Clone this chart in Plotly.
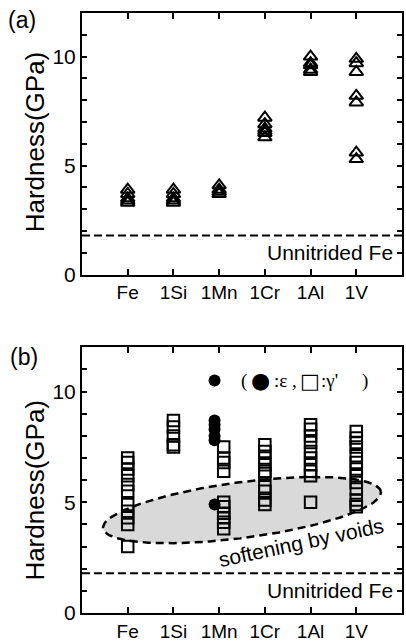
import numpy as np
import plotly.graph_objects as go

# ---------------- data ----------------
categories = ["Fe", "1Si", "1Mn", "1Cr", "1Al", "1V"]
y_ticks = list(range(0, 13))
y_ticklabels = ["0", "", "", "", "", "5", "", "", "", "", "10", "", ""]

# panel (a): hardness values (open triangles)
a_fe = [3.9, 3.7, 3.5, 3.4, 3.3]
a_si = [3.9, 3.7, 3.5, 3.4, 3.3]
a_mn = [4.1, 3.9, 3.8, 3.7]
a_cr = [7.2, 6.9, 6.7, 6.6, 6.5, 6.3]
a_al = [10.0, 9.7, 9.6, 9.4, 9.3]
a_v = [9.9, 9.7, 9.3, 8.2, 7.9, 5.6, 5.3]

# panel (b): gamma' phase (open squares)
b_fe = [7.0, 6.8, 6.5, 6.2, 5.8, 5.5, 4.9, 4.6, 4.3, 4.0, 3.0]
b_si = [8.7, 8.4, 8.0, 7.6, 7.5]
b_mn = [7.5, 7.0, 6.8, 6.4, 5.0, 4.8, 4.5, 4.3, 4.1, 3.8]
b_cr = [7.6, 7.3, 7.0, 6.7, 6.4, 6.3, 5.7, 5.5, 5.1, 4.9]
b_al = [8.5, 8.3, 8.0, 7.7, 7.3, 7.0, 6.7, 6.4, 6.2, 5.0]
b_v = [8.2, 7.9, 7.7, 7.5, 7.1, 6.8, 6.5, 6.2, 5.9, 5.6, 5.1, 4.9, 4.8]
# panel (b): epsilon phase (filled circles), only 1Mn
b_eps_mn = [10.5, 8.7, 8.5, 8.3, 8.0, 7.8, 4.9]

unnitrided_fe = 1.8

a_sets = [a_fe, a_si, a_mn, a_cr, a_al, a_v]
b_sets = [b_fe, b_si, b_mn, b_cr, b_al, b_v]
b_offsets = [0, 0, 0.1, 0, 0, 0]
eps_offset = -0.1

# ---------------- figure ----------------
W, H = 406, 644
ml, mr, mt, mb = 82, 2, 13, 28
fig = go.Figure()

ax, ay = [], []
for i, vals in enumerate(a_sets):
    ax += [i + 1] * len(vals)
    ay += vals
fig.add_trace(go.Scatter(
    x=ax, y=ay, mode="markers", xaxis="x", yaxis="y",
    marker=dict(symbol="triangle-up-open", size=12, color="black",
                line=dict(width=2, color="black")),
    showlegend=False))

# ellipse ("softening by voids") in panel (b)
ell_cx, ell_cy = 3.5, 4.65
ell_a_px, ell_b_px, ell_ang = 141, 28, 7.5
px_per_x = (W - ml - mr) / 7.0
px_per_y = 267 / 12.0
t = np.linspace(0, 2 * np.pi, 200)
th = np.deg2rad(ell_ang)
ex = ell_a_px * np.cos(t) * np.cos(th) - ell_b_px * np.sin(t) * np.sin(th)
ey = ell_a_px * np.cos(t) * np.sin(th) + ell_b_px * np.sin(t) * np.cos(th)
fig.add_trace(go.Scatter(
    x=ell_cx + ex / px_per_x, y=ell_cy + ey / px_per_y, mode="lines",
    xaxis="x2", yaxis="y2", fill="toself", fillcolor="#d9d9d9",
    line=dict(color="black", width=2.5, dash="8px,5px"),
    showlegend=False, hoverinfo="skip"))

bx, by = [], []
for i, vals in enumerate(b_sets):
    bx += [i + 1 + b_offsets[i]] * len(vals)
    by += vals
fig.add_trace(go.Scatter(
    x=bx, y=by, mode="markers", xaxis="x2", yaxis="y2",
    marker=dict(symbol="square-open", size=11.5, color="black",
                line=dict(width=2, color="black")),
    showlegend=False))
fig.add_trace(go.Scatter(
    x=[3 + eps_offset] * len(b_eps_mn), y=b_eps_mn, mode="markers",
    xaxis="x2", yaxis="y2",
    marker=dict(symbol="circle", size=12, color="black"),
    showlegend=False))

# unnitrided Fe dashed lines
for xr, yr in (("x", "y"), ("x2", "y2")):
    fig.add_trace(go.Scatter(
        x=[0, 7], y=[unnitrided_fe, unnitrided_fe], mode="lines",
        xaxis=xr, yaxis=yr,
        line=dict(color="black", width=2, dash="8px,4px"),
        showlegend=False, hoverinfo="skip"))

font_main = "Liberation Sans, Arial, sans-serif"
xcommon = dict(range=[0, 7], tickvals=list(range(1, 7)), ticktext=categories,
               ticks="inside", ticklen=6, tickwidth=1.5, tickcolor="black",
               showline=True, linewidth=2, linecolor="black", mirror="ticks",
               showgrid=False, zeroline=False,
               tickfont=dict(family=font_main, size=19, color="black"))
ycommon = dict(range=[0, 12], tickvals=y_ticks, ticktext=y_ticklabels,
               ticks="inside", ticklen=5, tickwidth=1.5, tickcolor="black",
               showline=True, linewidth=2, linecolor="black", mirror="ticks",
               showgrid=False, zeroline=False,
               tickfont=dict(family=font_main, size=21, color="black"))

dom_a = [(H - mb - 276) / (H - mt - mb), 1.0]
dom_b = [0.0, (H - mb - 349) / (H - mt - mb)]

fig.update_layout(
    width=W, height=H, margin=dict(l=ml, r=mr, t=mt, b=mb),
    paper_bgcolor="white", plot_bgcolor="white",
    xaxis=dict(anchor="y", **xcommon),
    yaxis=dict(anchor="x", domain=dom_a, **ycommon),
    xaxis2=dict(anchor="y2", **xcommon),
    yaxis2=dict(anchor="x2", domain=dom_b, **ycommon),
)

ann = []
# y titles
for dom, yc in ((dom_a, 143), (dom_b, 493)):
    ann.append(dict(text="Hardness(GPa)", xref="paper", yref="paper",
                    x=0, y=(H - mb - yc) / (H - mt - mb), xshift=-47,
                    xanchor="center", yanchor="middle", textangle=-90,
                    showarrow=False,
                    font=dict(family=font_main, size=26, color="black")))
# panel labels
ann.append(dict(text="(a)", xref="paper", yref="paper", x=0, xshift=-60,
                y=(H - mb - 20) / (H - mt - mb), xanchor="center", yanchor="middle",
                showarrow=False, font=dict(family=font_main, size=23, color="black")))
ann.append(dict(text="(b)", xref="paper", yref="paper", x=0, xshift=-58,
                y=(H - mb - 359) / (H - mt - mb), xanchor="center", yanchor="middle",
                showarrow=False, font=dict(family=font_main, size=23, color="black")))
# Unnitrided Fe labels
for xr, yr in (("x", "y"), ("x2", "y2")):
    ann.append(dict(text="Unnitrided Fe", xref=xr, yref=yr, x=6.85, y=1.0,
                    xanchor="right", yanchor="middle", showarrow=False,
                    font=dict(family=font_main, size=21, color="black")))
# softening by voids
ann.append(dict(text="softening by voids", xref="x2", yref="y2", x=4.78, y=3.2,
                xanchor="center", yanchor="middle", textangle=-12, showarrow=False,
                font=dict(family=font_main, size=21, color="black")))
# phase legend, built from pieces
serif = "Liberation Serif, Times New Roman, serif"
sym = "DejaVu Sans, sans-serif"
legend_pieces = [("(", -64, 19, serif), ("●", -54, 22, sym), (":ε ,", -31, 19, serif),
                 ("□", -5, 21, sym), (":γ'", 16, 19, serif), (")", 57, 19, serif)]
for txt, sh, fs, fam in legend_pieces:
    ann.append(dict(text=txt, xref="x2", yref="y2", x=4.84, y=10.5, xshift=sh,
                    xanchor="left", yanchor="middle", showarrow=False,
                    font=dict(family=fam, size=fs, color="black")))
fig.update_layout(annotations=ann)

fig.write_html("out.html", config={"displayModeBar": False},
               post_script="document.body.style.margin='0';document.body.style.overflow='hidden';")
